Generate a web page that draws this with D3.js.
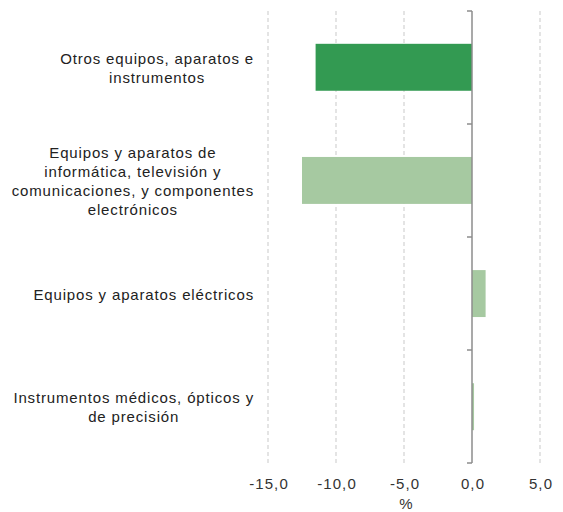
<!DOCTYPE html>
<html>
<head>
<meta charset="utf-8">
<script src="https://cdn.jsdelivr.net/npm/d3@7"></script>
<style>
  body { margin: 0; background: #fff; }
  svg { display: block; font-family: "Liberation Sans", Arial, sans-serif; }
</style>
</head>
<body>
<div id="chart"></div>
<script>
/* DATA */
const categories = [
  ["Otros equipos, aparatos e", "instrumentos"],
  ["Equipos y aparatos de", "informática, televisión y", "comunicaciones, y componentes", "electrónicos"],
  ["Equipos y aparatos eléctricos"],
  ["Instrumentos médicos, ópticos y", "de precisión"]
];
const values = [-11.5, -12.5, 1.0, 0.15];
const barColors = ["#339a52", "#a6c9a1", "#a6c9a1", "#a6c9a1"];
const xTicks = [-15, -10, -5, 0, 5];
const xTitle = "%";

/* CONSTANTS */
const width = 563,
  height = 512,
  margin = { top: 11, right: 23, bottom: 49, left: 268 };

const svg = d3.select("#chart")
  .append("svg")
  .attr("width", width)
  .attr("height", height);

const x = d3.scaleLinear()
  .domain([-15, 5])
  .range([margin.left, width - margin.right]);

const y = d3.scaleBand()
  .domain(d3.range(categories.length))
  .range([margin.top, height - margin.bottom])
  .paddingInner(0.585)
  .paddingOuter(0.29);

const yTop = margin.top, yBottom = height - margin.bottom;

// dashed grid
svg.append("g")
  .selectAll("line")
  .data(xTicks.filter(d => d !== 0))
  .join("line")
  .attr("x1", d => x(d)).attr("x2", d => x(d))
  .attr("y1", yTop).attr("y2", yBottom)
  .attr("stroke", "#c9c9c9")
  .attr("stroke-width", 1)
  .attr("stroke-dasharray", "4,3");

// bars
svg.append("g")
  .selectAll("rect")
  .data(values)
  .join("rect")
  .attr("x", d => x(Math.min(0, d)))
  .attr("width", d => Math.abs(x(d) - x(0)))
  .attr("y", (d, i) => y(i))
  .attr("height", y.bandwidth())
  .attr("fill", (d, i) => barColors[i]);

// vertical axis at zero, ticks at category boundaries
const boundaries = d3.range(categories.length + 1).map(i => yTop + i * (yBottom - yTop) / categories.length);
const axisG = svg.append("g");
axisG.append("line")
  .attr("x1", x(0)).attr("x2", x(0))
  .attr("y1", yTop).attr("y2", yBottom)
  .attr("stroke", "#8c8c8c")
  .attr("stroke-width", 1.5);
axisG.selectAll("line.tick")
  .data(boundaries)
  .join("line")
  .attr("class", "tick")
  .attr("x1", x(0) - 5).attr("x2", x(0))
  .attr("y1", d => d).attr("y2", d => d)
  .attr("stroke", "#8c8c8c")
  .attr("stroke-width", 1.5);

// x tick labels
svg.append("g")
  .selectAll("text")
  .data(xTicks)
  .join("text")
  .attr("x", d => x(d) + 1)
  .attr("y", 489)
  .attr("text-anchor", "middle")
  .attr("font-size", 15)
  .attr("letter-spacing", 1.1)
  .attr("fill", "#333")
  .text(d => d3.format(".1f")(d).replace(".", ",").replace("−", "-"));

svg.append("text")
  .attr("x", (x(-15) + x(5)) / 2 + 2)
  .attr("y", 509)
  .attr("text-anchor", "middle")
  .attr("font-size", 15)
  .attr("fill", "#333")
  .text(xTitle);

// category labels: centred lines, block right-aligned
const labelRight = 254, lineH = 19;
categories.forEach((lines, i) => {
  const g = svg.append("g");
  const texts = g.selectAll("text")
    .data(lines)
    .join("text")
    .attr("font-size", 15)
    .attr("letter-spacing", 0.85)
    .attr("fill", "#222")
    .attr("text-anchor", "middle")
    .text(d => d);
  const maxW = d3.max(texts.nodes(), n => n.getComputedTextLength());
  const cy = y(i) + y.bandwidth() / 2;
  const first = cy - (lines.length - 1) * lineH / 2 + 6;
  texts.attr("x", labelRight - maxW / 2)
    .attr("y", (d, j) => first + j * lineH);
});
</script>
</body>
</html>
